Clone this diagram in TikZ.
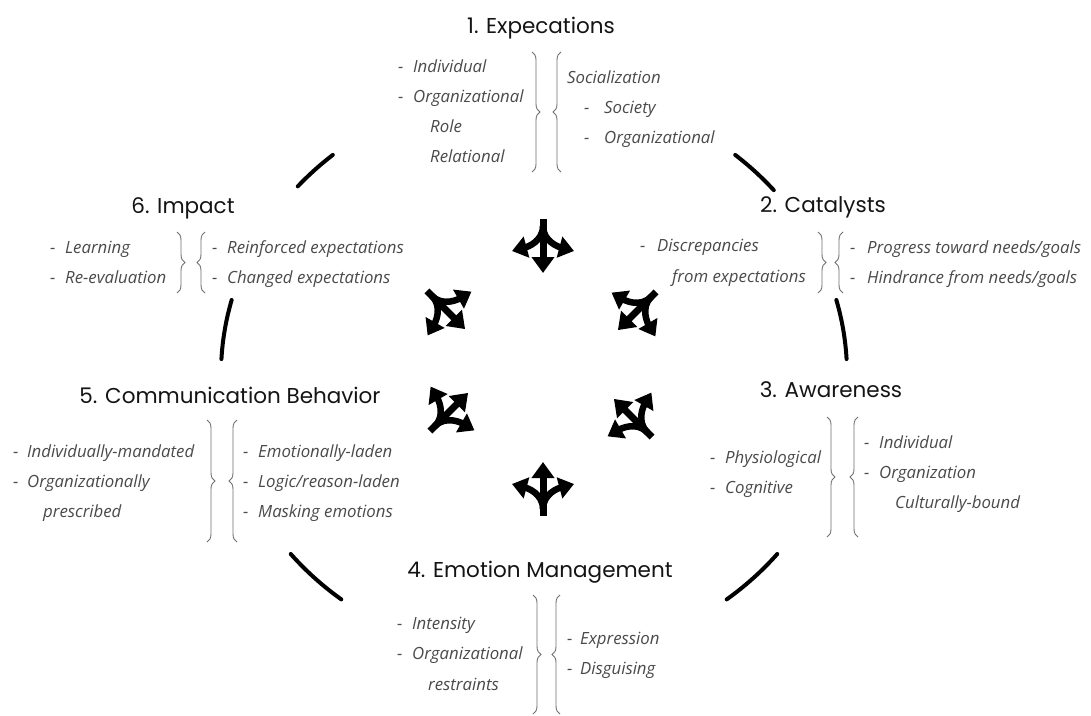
\documentclass[tikz,border=0pt]{standalone}
\usepackage{fontspec}
\setmainfont{Open Sans}
\newfontfamily\titlefont{Poppins}
\usetikzlibrary{arrows.meta,decorations.pathreplacing}
\definecolor{itemgray}{HTML}{4A4A4A}
\definecolor{bracegray}{HTML}{707070}
\newcommand{\dashitem}[2][15pt]{\makebox[#1][l]{-}#2}
\begin{document}
\begin{tikzpicture}[x=1pt,y=1pt,
 title/.style={anchor=base, font=\titlefont\fontsize{21.5}{25}\selectfont, text=black!92, inner sep=0},
 item/.style={anchor=base west, font=\itshape\fontsize{16.8}{19}\selectfont, text=itemgray, inner sep=0},
 bracedeco/.style={decorate, decoration={brace, amplitude=8pt}, draw=bracegray, line width=0.9pt},
 arcline/.style={line width=4pt, line cap=round},
 tri/.pic={
   \draw[line width=7pt, -{Triangle[length=16pt,width=22pt]}] (0,27) -- (0,-27);
   \draw[line width=6.5pt, -{Triangle[length=15pt,width=21pt]}] (0,20) to[out=-90,in=15] (-31,-5);
   \draw[line width=6.5pt, -{Triangle[length=15pt,width=21pt]}] (0,20) to[out=-90,in=165] (31,-5);
 }
]
\useasboundingbox (0,0) rectangle (1091,-715);
\fill[white] (0,0) rectangle (1091,-715);

% ring arcs
\coordinate (C) at (534,-374);
\foreach \s/\e in {130/139, 40/50, 3/15, 165/177, -52/-39, 219/232}{
  \draw[arcline] ([shift={(\s:313pt and 286pt)}]C) arc[start angle=\s,end angle=\e,x radius=313pt,y radius=286pt];
}

% icons
\pic at (543,-246) {tri};
\pic[rotate=-45] at (637,-311) {tri};
\pic[rotate=-135] at (633,-418) {tri};
\pic[rotate=180] at (543,-489) {tri};
\pic[rotate=135] at (449,-412) {tri};
\pic[rotate=45] at (446,-310) {tri};

% 1. Expectations
\node[title] (t1) at (541,-33) {1. Expecations};
\node[item] (a1) at (398,-72) {\dashitem{Individual}};
\node[item] (a2) at (398,-102) {\dashitem{Organizational}};
\node[item] (a3) at (430,-132) {Role};
\node[item] (a4) at (430,-162) {Relational};
\node[item] (b1) at (567,-83) {Socialization};
\node[item] (b2) at (584,-113) {\dashitem[20pt]{Society}};
\node[item] (b3) at (584,-143) {\dashitem[20pt]{Organizational}};
\draw[bracedeco] (532,-52) -- (532,-172);
\draw[bracedeco] (561,-172) -- (561,-52);

% 2. Catalysts
\node[title] (t2) at (823,-212) {2. Catalysts};
\node[item] (c1) at (640,-251) {\dashitem[17pt]{Discrepancies}};
\node[item] (c2) at (672,-282) {from expectations};
\node[item] (d1) at (850,-253) {\dashitem[17pt]{Progress toward needs/goals}};
\node[item] (d2) at (850,-283) {\dashitem[17pt]{Hindrance from needs/goals}};
\draw[bracedeco] (818,-232) -- (818,-293);
\draw[bracedeco] (843,-293) -- (843,-232);

% 3. Awareness
\node[title] (t3) at (831,-397) {3. Awareness};
\node[item] (e1) at (710,-463) {\dashitem{Physiological}};
\node[item] (e2) at (710,-493) {\dashitem{Cognitive}};
\node[item] (f1) at (864,-448) {\dashitem{Individual}};
\node[item] (f2) at (864,-478) {\dashitem{Organization}};
\node[item] (f3) at (895,-508) {Culturally-bound};
\draw[bracedeco] (827,-417) -- (827,-537);
\draw[bracedeco] (858,-537) -- (858,-417);

% 4. Emotion Management
\node[title] (t4) at (540,-577) {4. Emotion Management};
\node[item] (g1) at (397,-629) {\dashitem{Intensity}};
\node[item] (g2) at (397,-659) {\dashitem{Organizational}};
\node[item] (g3) at (428,-690) {restraints};
\node[item] (h1) at (567,-644) {\dashitem[13pt]{Expression}};
\node[item] (h2) at (567,-674) {\dashitem[13pt]{Disguising}};
\draw[bracedeco] (533,-595) -- (533,-714);
\draw[bracedeco] (560,-714) -- (560,-595);

% 5. Communication Behavior
\node[title] (t5) at (230,-403) {5. Communication Behavior};
\node[item] (i1) at (13,-457) {\dashitem[14pt]{Individually-mandated}};
\node[item] (i2) at (13,-487) {\dashitem[14pt]{Organizationally}};
\node[item] (i3) at (43,-517) {prescribed};
\node[item] (j1) at (243,-457) {\dashitem{Emotionally-laden}};
\node[item] (j2) at (243,-487) {\dashitem{Logic/reason-laden}};
\node[item] (j3) at (243,-517) {\dashitem{Masking emotions}};
\draw[bracedeco] (207,-420) -- (207,-542);
\draw[bracedeco] (237,-542) -- (237,-420);

% 6. Impact
\node[title] (t6) at (183,-213) {6. Impact};
\node[item] (k1) at (50,-253) {\dashitem{Learning}};
\node[item] (k2) at (50,-283) {\dashitem{Re-evaluation}};
\node[item] (l1) at (212,-253) {\dashitem{Reinforced expectations}};
\node[item] (l2) at (212,-283) {\dashitem{Changed expectations}};
\draw[bracedeco] (177,-232) -- (177,-293);
\draw[bracedeco] (205,-293) -- (205,-232);
\end{tikzpicture}
\end{document}
